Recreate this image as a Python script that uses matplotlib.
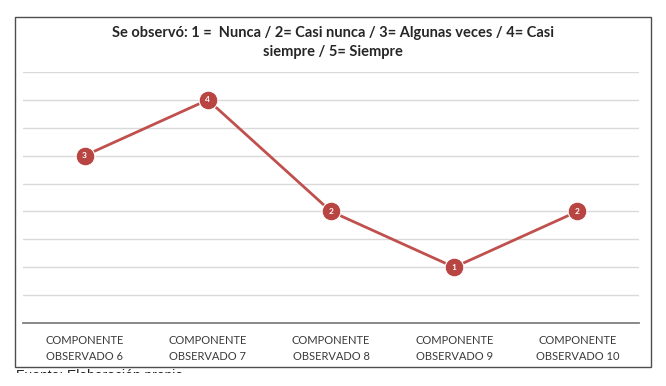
import matplotlib.pyplot as plt
from matplotlib.patches import Rectangle

# ============================
# DATA
# ============================
CATEGORIES = [
    "COMPONENTE\nOBSERVADO 6",
    "COMPONENTE\nOBSERVADO 7",
    "COMPONENTE\nOBSERVADO 8",
    "COMPONENTE\nOBSERVADO 9",
    "COMPONENTE\nOBSERVADO 10",
]
VALUES = [3, 4, 2, 1, 2]

TITLE = "Se observó: 1 =  Nunca / 2= Casi nunca / 3= Algunas veces / 4= Casi\nsiempre / 5= Siempre"
SOURCE = "Fuente: Elaboración propia"

LINE_COLOR = "#C0504D"
MARKER_COLOR = "#B84542"
GRID_COLOR = "#D9D9D9"

W, H = 666, 386

# ============================
# FIGURE
# ============================
fig = plt.figure(figsize=(W / 100, H / 100), dpi=100)
fig.patch.set_facecolor("white")

# plot area in pixel coords
left, right, top, bottom = 23, 639, 72, 323
ax = fig.add_axes([left / W, (H - bottom) / H, (right - left) / W, (bottom - top) / H])

x = list(range(len(CATEGORIES)))
ax.plot(x, VALUES, color=LINE_COLOR, lw=2, zorder=3,
        marker="o", markersize=13.5, markerfacecolor=MARKER_COLOR,
        markeredgecolor="white", markeredgewidth=0.8)
for xi, v in zip(x, VALUES):
    ax.text(xi, v, str(v), color="white", fontsize=6, fontweight="bold",
            ha="center", va="center", zorder=4, family="Lato")

ax.set_xlim(-0.5, len(CATEGORIES) - 0.5)
ax.set_ylim(0, 4.5)
ax.set_yticks([i * 0.5 for i in range(1, 10)])
ax.yaxis.grid(True, color=GRID_COLOR, lw=1)
ax.set_axisbelow(True)
ax.tick_params(axis="y", length=0, labelleft=False)
ax.tick_params(axis="x", length=0, pad=9)
ax.set_xticks(x)
ax.set_xticklabels(CATEGORIES, fontsize=8, color="#3A3A3A", family="Lato",
                   linespacing=1.5)
for s in ["top", "left", "right"]:
    ax.spines[s].set_visible(False)
ax.spines["bottom"].set_color("#7F7F7F")
ax.spines["bottom"].set_linewidth(1.3)

fig.text(0.5, (H - 26) / H, TITLE, ha="center", va="top", fontsize=10.5,
         fontweight="bold", color="#262626", family="Lato", linespacing=1.45)

# chart border
fig.patches.append(Rectangle((15 / W, (H - 367) / H), 636 / W, 350 / H,
                             transform=fig.transFigure, fill=False,
                             edgecolor="#4D4D4D", lw=1))

# source line, cut off at the bottom like the reference
fig.text(16 / W, (H - 369) / H, SOURCE, ha="left", va="top", fontsize=10,
         color="#222222", family="Liberation Sans")
fig.patches.append(Rectangle((0, 0), 1, (H - 373) / H, transform=fig.transFigure,
                             facecolor="white", edgecolor="none", zorder=10))

fig.savefig("out.png", dpi=100)
